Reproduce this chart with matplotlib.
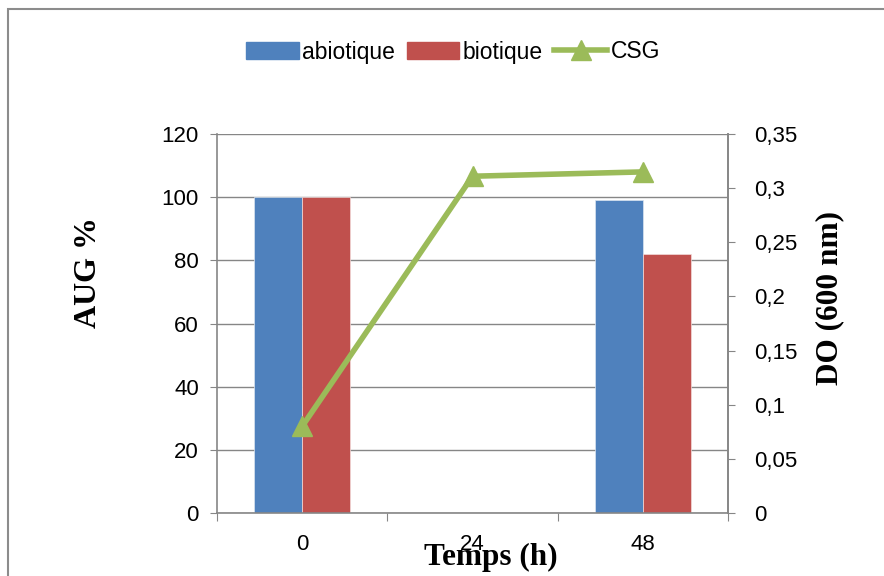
import matplotlib
matplotlib.use("Agg")
import matplotlib.pyplot as plt
from matplotlib.patches import Rectangle
from matplotlib.lines import Line2D
from matplotlib.ticker import FuncFormatter
import numpy as np

categories = ["0", "24", "48"]
abiotique = [100, 0, 99]
biotique = [100, 0, 82]
csg = [0.08, 0.311, 0.315]
left_ticks = [0, 20, 40, 60, 80, 100, 120]
right_ticks = [0, 0.05, 0.1, 0.15, 0.2, 0.25, 0.3, 0.35]

narrow = ["Liberation Sans Narrow", "Liberation Sans", "DejaVu Sans"]
serif = ["Liberation Serif", "DejaVu Serif"]
blue, red, green = "#4F81BD", "#C0504D", "#9BBB59"
grid = "#868686"

W, H = 884, 576
fig = plt.figure(figsize=(W / 100, H / 100), dpi=100)
fig.patches.append(Rectangle((8 / W, -0.5), 2, 1.5 - 9 / H, transform=fig.transFigure,
                             fill=False, edgecolor="#8c8c8c", lw=1.5))

ax = fig.add_axes([217 / W, (H - 513) / H, 511 / W, 379 / H])
x = np.arange(len(categories))
bw = 0.28
ax.bar(x - bw / 2, abiotique, bw, color=blue, edgecolor="#dbe5f1", lw=0.5, zorder=2, label="abiotique")
ax.bar(x + bw / 2, biotique, bw, color=red, edgecolor="#f2dcdb", lw=0.5, zorder=2, label="biotique")
ax.set_xlim(-0.5, 2.5)
ax.set_ylim(0, 120)
ax.set_yticks(left_ticks)
ax.set_xticks([-0.5, 0.5, 1.5, 2.5], minor=False)
ax.set_xticklabels([])
ax.set_xticks(x, minor=True)
ax.set_xticklabels(categories, minor=True)
ax.tick_params(axis="x", which="minor", length=0, pad=15, labelsize=16)
ax.tick_params(axis="x", which="major", length=6, color=grid, direction="out")
ax.tick_params(axis="y", length=5, color=grid, labelsize=16, pad=8)
for lab in ax.get_xticklabels(minor=True) + ax.get_yticklabels():
    lab.set_family(narrow)
ax.grid(axis="y", color=grid, lw=1, zorder=0)
ax.set_axisbelow(True)
for s in ["top"]:
    ax.spines[s].set_visible(False)
for s in ["left", "bottom", "right"]:
    ax.spines[s].set_color(grid)
    ax.spines[s].set_linewidth(1.2)

ax2 = ax.twinx()
ax2.plot(x, csg, color=green, lw=4, marker="^", markersize=15, zorder=5, label="CSG")
ax2.set_ylim(0, 0.35)
ax2.set_yticks(right_ticks)
ax2.yaxis.set_major_formatter(FuncFormatter(lambda v, p: ("%g" % round(v, 2)).replace(".", ",")))
ax2.tick_params(axis="y", length=5, color=grid, labelsize=16, pad=14)
for lab in ax2.get_yticklabels():
    lab.set_family(narrow)
for s in ["top", "left", "bottom"]:
    ax2.spines[s].set_visible(False)
ax2.spines["right"].set_color(grid)
ax2.spines["right"].set_linewidth(1.2)

fig.text(88 / W, 1 - 272 / H, "AUG %", rotation=90, ha="center", va="center",
         family=serif, fontweight="bold", fontsize=23)
fig.text(830 / W, 1 - 298 / H, "DO (600 nm)", rotation=90, ha="center", va="center",
         family=serif, fontweight="bold", fontsize=22.5)
fig.text(491 / W, 1 - 557 / H, "Temps (h)", ha="center", va="center",
         family=serif, fontweight="bold", fontsize=22.5)

handles = [Rectangle((0, 0), 1, 1, color=blue), Rectangle((0, 0), 1, 1, color=red),
           Line2D([], [], color=green, lw=4, marker="^", markersize=14)]
fig.legend(handles, ["abiotique", "biotique", "CSG"], loc="center", bbox_to_anchor=(453 / W, 1 - 52 / H),
           ncol=3, frameon=False, prop={"family": narrow, "size": 16.5}, handlelength=2.3,
           handleheight=0.7, handletextpad=0.15, columnspacing=0.5)

fig.savefig("out.png", dpi=100)
